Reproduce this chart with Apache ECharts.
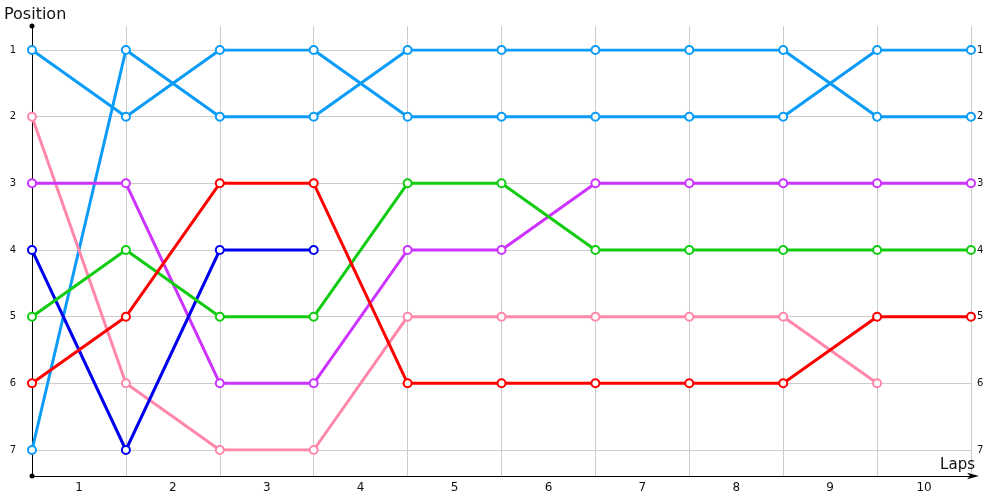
<!DOCTYPE html>
<html>
<head>
<meta charset="utf-8">
<script src="https://cdn.jsdelivr.net/npm/echarts@6/dist/echarts.min.js"></script>
<style>html,body{margin:0;padding:0;background:#fff}#c{width:1000px;height:500px}</style>
</head>
<body>
<div id="c"></div>
<script>
const lapLabels = ['1','2','3','4','5','6','7','8','9','10'];
const positionTicks = [1,2,3,4,5,6,7];
const driverA = [1,2,1,1,2,2,2,2,2,1,1];
const driverB = [7,1,2,2,1,1,1,1,1,2,2];
const driverPink = [2,6,7,7,5,5,5,5,5,6,null];
const driverPurple = [3,3,6,6,4,4,3,3,3,3,3];
const driverNavy = [4,7,4,4,null,null,null,null,null,null,null];
const driverGreen = [5,4,5,5,3,3,4,4,4,4,4];
const driverRed = [6,5,3,3,6,6,6,6,6,5,5];

const FONT = 'DejaVu Sans';
function toPoints(arr){ return arr.map((v,i)=>[i, v]); }
function mk(name, arr, color){
  return {
    name, type:'line', xAxisIndex:0, yAxisIndex:0,
    data: toPoints(arr), connectNulls:false,
    symbol:'emptyCircle', symbolSize:8, showAllSymbol:true,
    lineStyle:{color, width:3}, itemStyle:{color, borderWidth:1.5},
    emphasis:{disabled:true}, animation:false
  };
}
const chart = echarts.init(document.getElementById('c'), null, {renderer:'canvas'});
chart.setOption({
  animation:false,
  textStyle:{fontFamily:FONT},
  grid:[
    {left:32, right:29, top:50, bottom:50},
    {left:32, right:29, top:26, bottom:24}
  ],
  xAxis:[
    {gridIndex:0, type:'value', position:'bottom', min:0, max:lapLabels.length, interval:1, show:false},
    {gridIndex:1, type:'value', position:'bottom', min:0, max:lapLabels.length, interval:1,
      axisLine:{show:true, onZero:false, lineStyle:{color:'#000', width:1}, symbol:['circle','arrow'], symbolSize:[5,12], symbolOffset:[0,8]},
      axisTick:{show:false}, axisLabel:{show:false},
      splitLine:{show:true, lineStyle:{color:'#cccccc', width:1}},
      name:'Laps', nameLocation:'end', nameGap:4,
      nameTextStyle:{fontFamily:FONT, fontSize:15, color:'#111', align:'right', verticalAlign:'bottom', padding:[0,0,3,0]}
    },
    {gridIndex:1, type:'category', position:'bottom', offset:0, data:lapLabels, boundaryGap:true,
      axisLine:{show:false, onZero:false}, axisTick:{show:false}, splitLine:{show:false},
      axisLabel:{fontFamily:FONT, fontSize:12, color:'#111', margin:6}
    }
  ],
  yAxis:[
    {gridIndex:0, type:'value', min:1, max:7, interval:1, inverse:true,
      axisLine:{show:false}, axisTick:{show:false},
      axisLabel:{fontFamily:FONT, fontSize:10, color:'#111', margin:16},
      splitLine:{show:true, lineStyle:{color:'#cccccc', width:1}}
    },
    {gridIndex:0, type:'value', min:1, max:7, interval:1, inverse:true, position:'right',
      axisLine:{show:false}, axisTick:{show:false},
      axisLabel:{fontFamily:FONT, fontSize:10, color:'#111', margin:6},
      splitLine:{show:false}
    },
    {gridIndex:1, type:'value', min:0, max:1, position:'left',
      axisLine:{show:true, onZero:false, lineStyle:{color:'#000', width:1}, symbol:['none','circle'], symbolSize:[5,5]},
      axisTick:{show:false}, axisLabel:{show:false}, splitLine:{show:false},
      name:'Position', nameLocation:'end', nameGap:3,
      nameTextStyle:{fontFamily:FONT, fontSize:16, color:'#111', align:'left', padding:[0,0,0,-28]}
    }
  ],
  series:[
    mk('A', driverA, '#0a9cf8'),
    mk('B', driverB, '#0a9cf8'),
    mk('Pink', driverPink, '#ff88aa'),
    mk('Purple', driverPurple, '#cc33ff'),
    mk('Navy', driverNavy, '#0000ee'),
    mk('Green', driverGreen, '#11cc11'),
    mk('Red', driverRed, '#ff0000')
  ]
});
</script>
</body>
</html>
